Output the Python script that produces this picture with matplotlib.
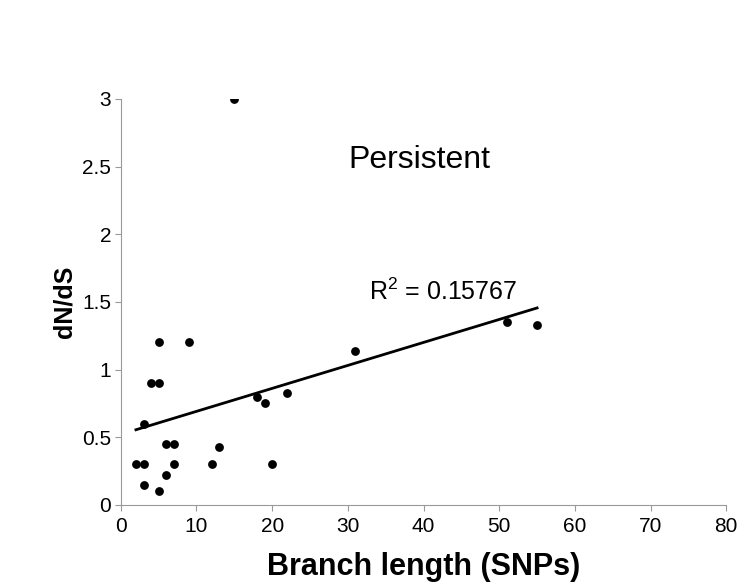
import numpy as np
import matplotlib
matplotlib.use("Agg")
import matplotlib.pyplot as plt

# branch length (SNPs) vs dN/dS, persistent lineages
branch_len = [15, 2, 3, 3, 3, 4, 5, 5, 9, 5, 6, 7, 6, 7, 12, 13, 18, 19, 20, 22, 31, 51, 55]
dn_ds = [3.0, 0.3, 0.3, 0.15, 0.6, 0.9, 0.9, 1.2, 1.2, 0.1, 0.45, 0.45, 0.22, 0.3,
         0.3, 0.43, 0.8, 0.75, 0.3, 0.83, 1.14, 1.35, 1.33]

# linear trendline as drawn in the original (ends)
trend_x = [2, 55]
trend_y = [0.555, 1.455]
r2_label = 'R$^{2}$ = 0.15767'

x_ticks = [0, 10, 20, 30, 40, 50, 60, 70, 80]
y_ticks = [0, 0.5, 1, 1.5, 2, 2.5, 3]
y_tick_labels = ['0', '0.5', '1', '1.5', '2', '2.5', '3']

plt.rcParams['font.family'] = ['Liberation Sans', 'DejaVu Sans']
plt.rcParams['mathtext.fontset'] = 'custom'
plt.rcParams['mathtext.rm'] = 'Liberation Sans'

fig = plt.figure(figsize=(7.55, 5.85), dpi=100)
ax = fig.add_axes([0.160, 0.137, 0.802, 0.694])

ax.plot(trend_x, trend_y, color='black', lw=2, zorder=2)
ax.scatter(branch_len, dn_ds, s=40, color='black', zorder=3, linewidths=0)

ax.set_xlim(0, 80)
ax.set_ylim(0, 3)
ax.set_xticks(x_ticks)
ax.set_yticks(y_ticks)
ax.set_yticklabels(y_tick_labels)
ax.tick_params(labelsize=15, length=4, color='#999999', width=0.8)
ax.tick_params(axis='y', pad=3)
ax.tick_params(axis='x', pad=5)

for s in ['top', 'right']:
    ax.spines[s].set_visible(False)
for s in ['left', 'bottom']:
    ax.spines[s].set_color('#999999')
    ax.spines[s].set_linewidth(0.8)

ax.set_xlabel('Branch length (SNPs)', fontsize=22, fontweight='bold', labelpad=11)
ax.set_ylabel('dN/dS', fontsize=18, fontweight='bold', labelpad=4)

ax.text(39.5, 2.55, 'Persistent', fontsize=23, ha='center', va='center')
ax.text(32.8, 1.515, r2_label, fontsize=18, ha='left', va='baseline')

fig.savefig('out.png', dpi=100)
